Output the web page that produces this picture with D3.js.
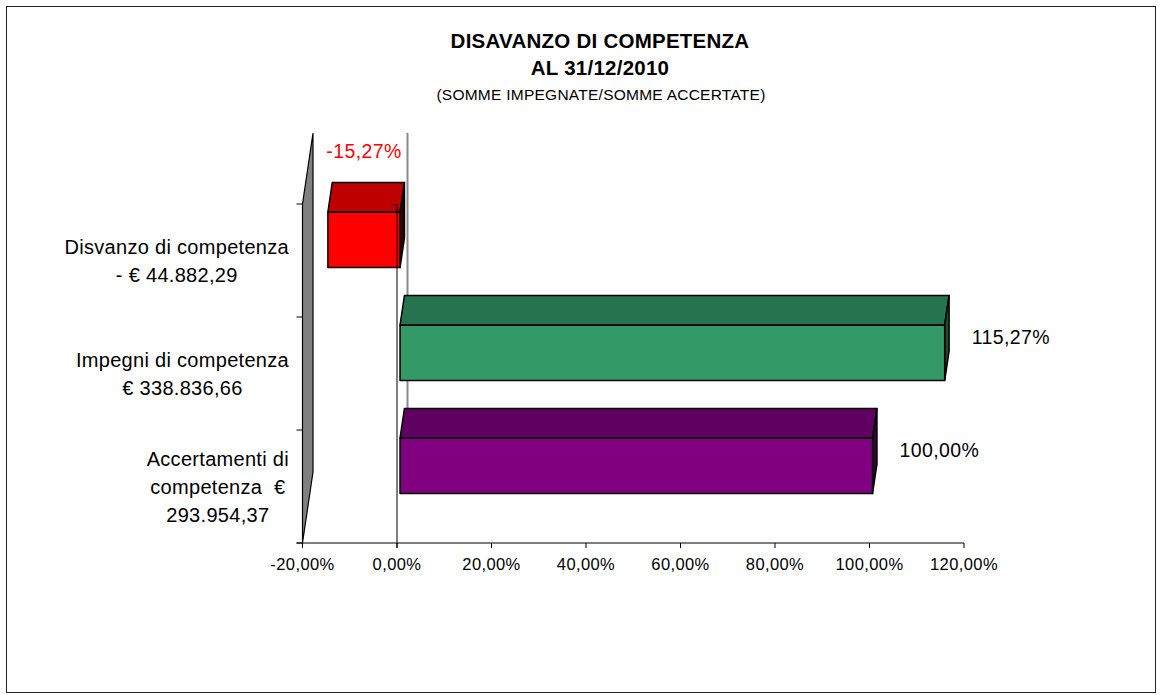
<!DOCTYPE html>
<html><head><meta charset="utf-8">
<script src="https://cdn.jsdelivr.net/npm/d3@7"></script>
<style>body{margin:0;background:#fff}svg{display:block;font-family:"Liberation Sans",Arial,sans-serif}</style>
</head><body>
<script>
// ---- data ----
const categories = [
  ["Disvanzo di competenza", "- € 44.882,29"],
  ["Impegni di competenza", "€ 338.836,66"],
  ["Accertamenti di", "competenza  €", "293.954,37"]
];
const values = [-15.27, 115.27, 100.00];
const valueLabels = ["-15,27%", "115,27%", "100,00%"];
const tickValues = [-20, 0, 20, 40, 60, 80, 100, 120];
const titleLines = ["DISAVANZO DI COMPETENZA", "AL 31/12/2010"];
const subtitle = "(SOMME IMPEGNATE/SOMME ACCERTATE)";

// ---- styles ----
const frontColors = ["#ff0000", "#339966", "#800080"];
const topColors   = ["#bf0000", "#267350", "#600060"];
const sideColors  = ["#300000", "#1a4d33", "#3a003a"];
const labelColors = ["#ff0000", "#000", "#000"];

const W = 1162, H = 695;
const svg = d3.select("body").append("svg").attr("width", W).attr("height", H);
svg.append("rect").attr("x", 6.5).attr("y", 6.5).attr("width", 1149).attr("height", 686)
  .attr("fill", "#fff").attr("stroke", "#222").attr("stroke-width", 1);

const loc = d3.formatLocale({decimal: ",", thousands: ".", grouping: [3], currency: ["€", ""], minus: "-"});
const fmt = v => loc.format(".2f")(v) + "%";

const x = d3.scaleLinear().domain([-20, 120]).range([302.5, 964]);
const y = d3.scaleBand().domain(d3.range(categories.length)).range([204, 543]);
const D = [10.5, -71];           // full depth offset
const f0 = 0.29, f1 = 0.71;      // bar depth extent (fraction)
const barH = y.bandwidth() * 0.49;

// title
const tg = svg.append("g").attr("text-anchor", "middle");
tg.selectAll("text.t").data(titleLines).join("text").attr("class", "t")
  .attr("x", 600).attr("y", (d, i) => 48 + i * 27)
  .attr("font-size", 20.5).attr("letter-spacing", 0.25).attr("font-weight", "bold").text(d => d);
tg.append("text").attr("x", 601).attr("y", 100).attr("font-size", 15.5).attr("letter-spacing", 0.25).text(subtitle);

// left wall
const x0 = x(-20), yT = y.range()[0], yB = y.range()[1];
svg.append("path")
  .attr("d", `M${x0},${yB}L${x0},${yT}L${x0 + D[0]},${yT + D[1]}L${x0 + D[0]},${yB + D[1]}Z`)
  .attr("fill", "#808080").attr("stroke", "#000").attr("stroke-width", 1.2);

// back zero line
svg.append("line").attr("x1", x(0) + D[0]).attr("x2", x(0) + D[0])
  .attr("y1", yT + D[1]).attr("y2", yB + D[1]).attr("stroke", "#8a8a8a").attr("stroke-width", 2);

// bars
values.forEach((v, i) => {
  const cy = y(i) + y.bandwidth() / 2;
  const dx = D[0] * f0, dy = D[1] * f0;
  const ddx = D[0] * (f1 - f0), ddy = D[1] * (f1 - f0);
  const xa = Math.min(x(0), x(v)) + dx, xb = Math.max(x(0), x(v)) + dx;
  const ya = cy - barH / 2 + dy, yb = cy + barH / 2 + dy;
  const g = svg.append("g").attr("stroke", "#000").attr("stroke-width", 1.5).attr("stroke-linejoin", "round");
  g.append("path").attr("d", `M${xa},${ya}L${xa + ddx},${ya + ddy}L${xb + ddx},${ya + ddy}L${xb},${ya}Z`).attr("fill", topColors[i]);
  g.append("path").attr("d", `M${xb},${ya}L${xb + ddx},${ya + ddy}L${xb + ddx},${yb + ddy}L${xb},${yb}Z`).attr("fill", sideColors[i]);
  g.append("rect").attr("x", xa).attr("y", ya).attr("width", xb - xa).attr("height", yb - ya).attr("fill", frontColors[i]);

  // data label
  const t = svg.append("text").attr("font-size", 19.5).attr("letter-spacing", 0.4).attr("fill", labelColors[i]).text(valueLabels[i]);
  if (v < 0) {
    t.attr("text-anchor", "middle").attr("x", x(v / 2) + dx).attr("y", ya + ddy - 24);
  } else {
    t.attr("text-anchor", "start").attr("x", x(v) + 30).attr("y", cy - 37 + 7);
  }
});

// front zero line (drawn over bars)
svg.append("line").attr("x1", x(0)).attr("x2", x(0)).attr("y1", yT).attr("y2", yB + 5)
  .attr("stroke", "#000").attr("stroke-width", 1);
svg.append("line").attr("x1", x(0) - 5).attr("x2", x(0)).attr("y1", yT + 0.5).attr("y2", yT + 0.5)
  .attr("stroke", "#300").attr("stroke-width", 1);

// value axis
const ax = svg.append("g");
ax.append("line").attr("x1", x0 - 6).attr("x2", x(120)).attr("y1", yB).attr("y2", yB).attr("stroke", "#000");
ax.selectAll("line.tk").data(tickValues).join("line").attr("class", "tk")
  .attr("x1", d => x(d)).attr("x2", d => x(d)).attr("y1", yB).attr("y2", yB + 5).attr("stroke", "#000");
ax.selectAll("text").data(tickValues).join("text")
  .attr("x", d => x(d)).attr("y", yB + 27).attr("text-anchor", "middle").attr("font-size", 16.5)
  .attr("letter-spacing", 0.4).text(d => fmt(d));

// category ticks
svg.selectAll("line.ct").data(d3.range(categories.length + 1)).join("line").attr("class", "ct")
  .attr("x1", x0 - 6).attr("x2", x0).attr("y1", d => yT + d * y.step()).attr("y2", d => yT + d * y.step())
  .attr("stroke", "#000");

// category labels
const lh = 28, rightEdge = 289;
categories.forEach((lines, i) => {
  const cy = y(i) + y.bandwidth() / 2;
  const g = svg.append("g").attr("font-size", 20).attr("letter-spacing", 0.3).attr("text-anchor", "middle");
  const ts = g.selectAll("text").data(lines).join("text")
    .attr("xml:space", "preserve").style("white-space", "pre")
    .attr("y", (d, k) => cy + (k - (lines.length - 1) / 2) * lh + 7).text(d => d);
  let maxW = 0;
  ts.each(function () { maxW = Math.max(maxW, this.getComputedTextLength()); });
  ts.attr("x", rightEdge - maxW / 2);
});
</script>
</body></html>
